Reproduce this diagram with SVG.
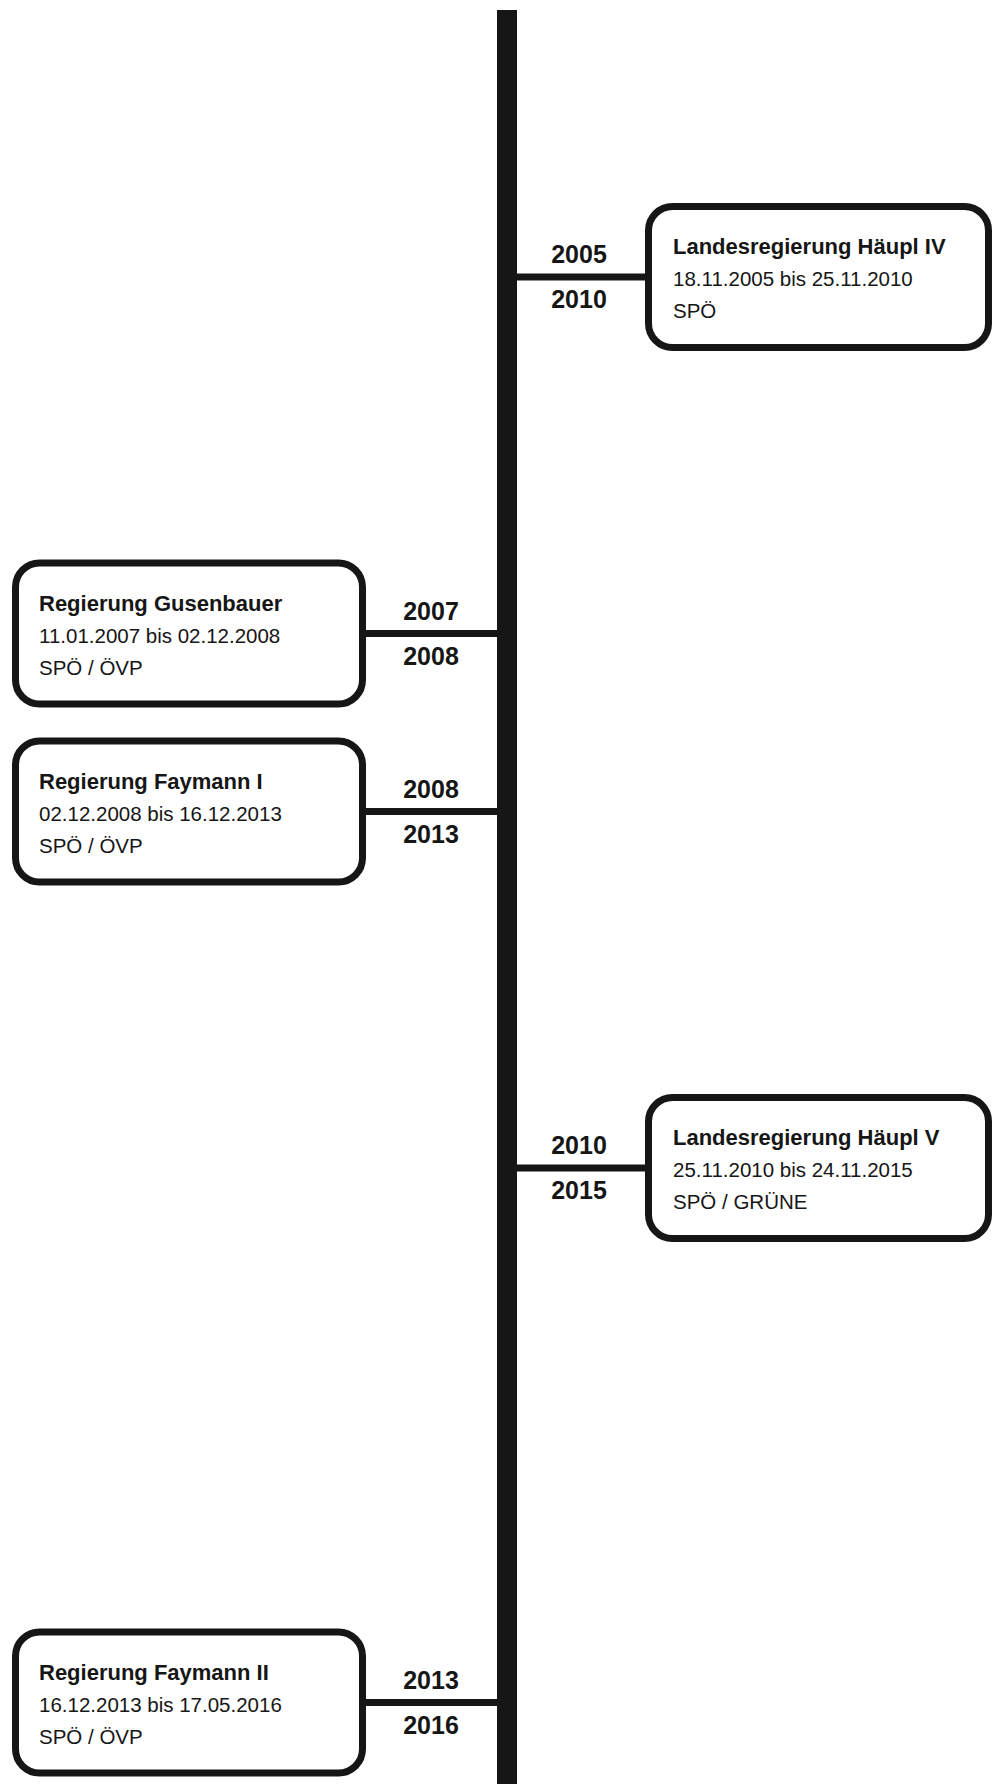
<svg xmlns="http://www.w3.org/2000/svg" width="992" height="1784" viewBox="0 0 992 1784">
<style>
.box{fill:#fff;stroke:#161616;stroke-width:7}
.con{stroke:#161616;stroke-width:7}
.yr{font-family:"Liberation Sans",Arial,sans-serif;font-weight:bold;font-size:25px;fill:#161616;text-anchor:middle}
.t{font-family:"Liberation Sans",Arial,sans-serif;font-weight:bold;font-size:22px;fill:#161616}
.b{font-family:"Liberation Sans",Arial,sans-serif;font-size:20.5px;fill:#161616}
</style>
<rect width="992" height="1784" fill="#fff"/>
<g id="timeline">
<rect x="497" y="10" width="20" height="1774" fill="#161616"/>
</g>
<g id="connectors">
<line class="con" x1="517" y1="277" x2="646" y2="277"/>
<line class="con" x1="364" y1="633.5" x2="497" y2="633.5"/>
<line class="con" x1="364" y1="811.5" x2="497" y2="811.5"/>
<line class="con" x1="517" y1="1168" x2="646" y2="1168"/>
<line class="con" x1="364" y1="1702.5" x2="497" y2="1702.5"/>
</g>
<g id="years">
<text class="yr" x="579" y="263">2005</text>
<text class="yr" x="579" y="308">2010</text>
<text class="yr" x="431" y="619.5">2007</text>
<text class="yr" x="431" y="664.5">2008</text>
<text class="yr" x="431" y="797.5">2008</text>
<text class="yr" x="431" y="842.5">2013</text>
<text class="yr" x="579" y="1154">2010</text>
<text class="yr" x="579" y="1199">2015</text>
<text class="yr" x="431" y="1688.5">2013</text>
<text class="yr" x="431" y="1733.5">2016</text>
</g>
<g id="haeupl4">
<rect class="box" x="648.5" y="206.5" width="340" height="141" rx="24"/>
<text class="t" x="673" y="254">Landesregierung Häupl IV</text>
<text class="b" x="673" y="286">18.11.2005 bis 25.11.2010</text>
<text class="b" x="673" y="318">SPÖ</text>
</g>
<g id="gusenbauer">
<rect class="box" x="15.5" y="563" width="347" height="141" rx="24"/>
<text class="t" x="39" y="610.5">Regierung Gusenbauer</text>
<text class="b" x="39" y="642.5">11.01.2007 bis 02.12.2008</text>
<text class="b" x="39" y="674.5">SPÖ / ÖVP</text>
</g>
<g id="faymann1">
<rect class="box" x="15.5" y="741" width="347" height="141" rx="24"/>
<text class="t" x="39" y="788.5">Regierung Faymann I</text>
<text class="b" x="39" y="820.5">02.12.2008 bis 16.12.2013</text>
<text class="b" x="39" y="852.5">SPÖ / ÖVP</text>
</g>
<g id="haeupl5">
<rect class="box" x="648.5" y="1097.5" width="340" height="141" rx="24"/>
<text class="t" x="673" y="1145">Landesregierung Häupl V</text>
<text class="b" x="673" y="1177">25.11.2010 bis 24.11.2015</text>
<text class="b" x="673" y="1209">SPÖ / GRÜNE</text>
</g>
<g id="faymann2">
<rect class="box" x="15.5" y="1632" width="347" height="141" rx="24"/>
<text class="t" x="39" y="1679.5">Regierung Faymann II</text>
<text class="b" x="39" y="1711.5">16.12.2013 bis 17.05.2016</text>
<text class="b" x="39" y="1743.5">SPÖ / ÖVP</text>
</g>
</svg>
